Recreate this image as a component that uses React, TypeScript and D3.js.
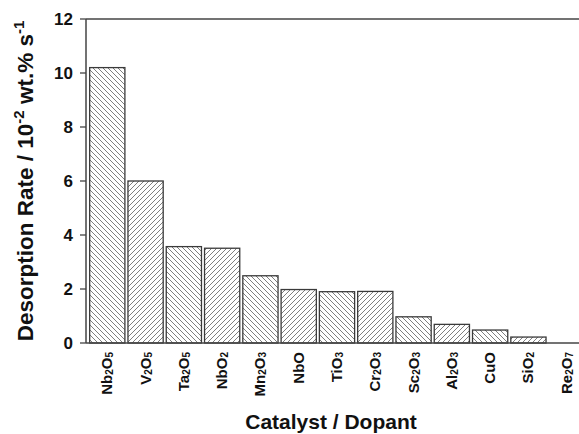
import React from "react";
import * as d3 from "d3";

// Catalyst / dopant names (digits are drawn as subscripts)
const categories: string[] = [
  "Nb2O5", "V2O5", "Ta2O5", "NbO2", "Mn2O3", "NbO", "TiO3",
  "Cr2O3", "Sc2O3", "Al2O3", "CuO", "SiO2", "Re2O7",
];
// Desorption rate, 10^-2 wt.% s^-1
const rates: number[] = [10.2, 6.0, 3.57, 3.51, 2.49, 1.98, 1.9, 1.91, 0.97, 0.69, 0.48, 0.22, 0];
const yTicks: number[] = [0, 2, 4, 6, 8, 10, 12];

const W = 579;
const H = 434;
const left = 86;
const top = 19;
const bottom = 343;
const FONT = "'Liberation Sans', Arial, Helvetica, sans-serif";

// break a formula into normal / subscript digit runs
function formulaParts(s: string): { t: string; sub: boolean }[] {
  const parts: { t: string; sub: boolean }[] = [];
  for (const ch of s) {
    const sub = /[0-9]/.test(ch);
    const last = parts[parts.length - 1];
    if (last && last.sub === sub) last.t += ch;
    else parts.push({ t: ch, sub });
  }
  return parts;
}

export default function App() {
  const x = d3
    .scaleBand<string>()
    .domain(categories)
    .range([87, 587])
    .paddingInner(0.08)
    .paddingOuter(0.07);
  const y = d3.scaleLinear().domain([0, 12]).range([bottom, top]);

  return (
    <div style={{ position: "absolute", left: 0, top: 0 }}>
      <svg width={W} height={H} style={{ display: "block", background: "#fff" }}>
        <defs>
          <pattern id="hatchBack" patternUnits="userSpaceOnUse" width={5} height={5}>
            <path d="M0,0L5,5M-1,4L1,6M4,-1L6,1" stroke="#707070" strokeWidth={0.9} />
          </pattern>
          <pattern id="hatchFwd" patternUnits="userSpaceOnUse" width={5} height={5}>
            <path d="M0,5L5,0M-1,1L1,-1M4,6L6,4" stroke="#707070" strokeWidth={0.9} />
          </pattern>
        </defs>

        {/* bars */}
        {categories.map((c, i) =>
          rates[i] > 0 ? (
            <rect
              key={c}
              x={x(c)!}
              y={y(rates[i])}
              width={x.bandwidth()}
              height={y(0) - y(rates[i])}
              fill={`url(#${i % 2 === 0 ? "hatchBack" : "hatchFwd"})`}
              stroke="#3a3a3a"
              strokeWidth={1.3}
            />
          ) : null
        )}

        {/* axes frame */}
        <line x1={left} x2={W} y1={top} y2={top} stroke="#444" strokeWidth={1.5} />
        <line x1={left} x2={W} y1={bottom} y2={bottom} stroke="#444" strokeWidth={1.5} />
        <line x1={left} x2={left} y1={top} y2={bottom} stroke="#444" strokeWidth={1.5} />

        {/* y ticks */}
        {yTicks.map((t) => (
          <g key={t} transform={`translate(0,${y(t)})`}>
            <line x1={left - 6} x2={left} stroke="#444" strokeWidth={1.3} />
            <text
              x={73}
              dy="0.35em"
              textAnchor="end"
              fontFamily={FONT}
              fontWeight="bold"
              fontSize={17}
              fill="#111"
            >
              {t}
            </text>
          </g>
        ))}

        {/* category labels */}
        {categories.map((c) => {
          const cx = x(c)! + x.bandwidth() / 2;
          return (
            <text
              key={c}
              transform={`translate(${cx + 5},352) rotate(-90)`}
              textAnchor="end"
              fontFamily={FONT}
              fontWeight="bold"
              fontSize={15}
              fill="#111"
            >
              {formulaParts(c).map((p, k) => (
                <tspan key={k} fontSize={p.sub ? 10 : 15} dy={p.sub ? 1 : k > 0 ? -1 : 0}>
                  {p.t}
                </tspan>
              ))}
            </text>
          );
        })}

        {/* axis titles */}
        <text
          x={331}
          y={429}
          textAnchor="middle"
          fontFamily={FONT}
          fontWeight="bold"
          fontSize={21}
          fill="#111"
        >
          Catalyst / Dopant
        </text>
        <text
          transform="translate(33,181) rotate(-90)"
          textAnchor="middle"
          fontFamily={FONT}
          fontWeight="bold"
          fontSize={22.5}
          fill="#111"
        >
          Desorption Rate / 10
          <tspan fontSize={15} dy={-9}>-2</tspan>
          <tspan dy={9}> wt.% s</tspan>
          <tspan fontSize={15} dy={-9}>-1</tspan>
        </text>
      </svg>
    </div>
  );
}
